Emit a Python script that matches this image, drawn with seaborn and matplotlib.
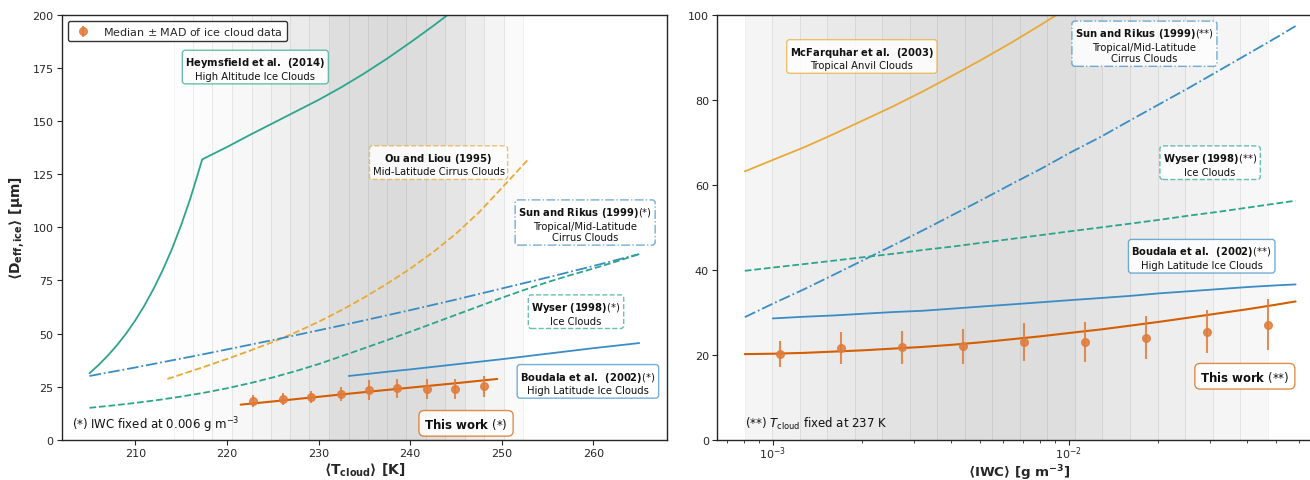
import numpy as np
import matplotlib
matplotlib.use("Agg")
import matplotlib.pyplot as plt
import seaborn as sns

# ---------------- data: left panel (temperature) ----------------
t_band_edges = [214.2, 216.3, 218.4, 220.6, 222.7, 224.8, 226.9, 229.0, 231.1, 233.3,
                235.4, 237.5, 239.6, 241.7, 243.8, 246.0, 248.1, 250.2, 252.3]
t_band_alpha = [0.008, 0.012, 0.018, 0.03, 0.045, 0.06, 0.08, 0.095, 0.13,
                0.135, 0.14, 0.14, 0.135, 0.12, 0.10, 0.07, 0.045, 0.02]

t_grid = [205, 207.5, 210, 212.5, 215, 217.5, 220, 222.5, 225, 227.5, 230, 232.5, 235,
          237.5, 240, 242.5, 245, 247.5, 250, 252.5, 255, 257.5, 260, 262.5, 265]
sun_t = [30.0, 32.0, 34.0, 36.1, 38.2, 40.3, 42.5, 44.7, 46.9, 49.2, 51.5, 53.8, 56.2,
         58.6, 61.0, 63.5, 66.0, 68.6, 71.2, 73.8, 76.4, 79.1, 81.8, 84.6, 87.4]
wyser_t = [15.0, 16.1, 17.3, 18.7, 20.3, 22.1, 24.2, 26.6, 29.3, 32.3, 35.6, 39.3, 43.1,
           46.9, 50.8, 54.8, 58.8, 62.8, 66.8, 70.6, 74.2, 77.5, 80.6, 83.9, 87.4]

heyms_T = [205, 206, 207, 208, 209, 210, 211, 212, 213, 214, 215, 216, 217, 217.3,
           220, 222.5, 225, 227.5, 230, 232.5, 235, 237.5, 240, 242.5, 245, 247.5]
heyms_D = [31.3, 35.2, 39.6, 44.5, 50.0, 56.2, 63.2, 71.1, 79.9, 89.8, 101.0, 113.5, 127.6, 132.0,
           137.8, 143.5, 149.0, 154.5, 160.0, 166.0, 172.5, 179.5, 187.0, 194.8, 203.0, 211.5]

ou_T = [213.5, 215, 217.5, 220, 222.5, 225, 227.5, 230, 232.5, 235, 237.5, 240, 242.5,
        245, 247.5, 250, 252.5, 253]
ou_D = [28.6, 30.7, 34.3, 38.0, 41.9, 46.0, 50.5, 55.5, 61.0, 67.0, 73.5, 80.5, 88.3,
        97.0, 107.0, 118.5, 130.2, 132.5]

boud_T = [233.3, 235, 237.5, 240, 242.5, 245, 247.5, 250, 252.5, 255, 257.5, 260, 262.5, 265]
boud_D = [30.0, 30.8, 32.0, 33.1, 34.3, 35.5, 36.7, 37.9, 39.2, 40.5, 41.8, 43.1, 44.3, 45.5]

fit_T = [221.5, 225, 230, 235, 240, 245, 249.5]
fit_D = [16.5, 18.0, 20.2, 22.4, 24.5, 26.6, 28.6]

obs_T = [222.9, 226.1, 229.2, 232.4, 235.5, 238.6, 241.8, 244.9, 248.1]
obs_D = [18.2, 19.2, 20.0, 21.5, 23.4, 24.3, 23.9, 23.9, 25.1]
obs_err = [2.7, 2.7, 2.9, 3.2, 4.5, 4.5, 4.7, 4.6, 5.0]

# ---------------- data: right panel (IWC) ----------------
iwc_band_edges = [8.054e-4, 9.975e-4, 1.236e-3, 1.530e-3, 1.895e-3, 2.347e-3, 2.907e-3,
                  3.600e-3, 4.459e-3, 5.523e-3, 6.839e-3, 8.471e-3, 1.049e-2, 1.299e-2,
                  1.609e-2, 1.993e-2, 2.469e-2, 3.057e-2, 3.787e-2, 4.690e-2]
iwc_band_alpha = [0.04, 0.055, 0.07, 0.085, 0.095, 0.11, 0.12, 0.13, 0.135, 0.135,
                  0.135, 0.13, 0.11, 0.095, 0.08, 0.065, 0.055, 0.04, 0.03]

iwc_grid = [0.000805, 0.00101, 0.00128, 0.00161, 0.00202, 0.00255, 0.00321, 0.00404,
            0.00508, 0.0064, 0.00805, 0.0101, 0.0128, 0.0161, 0.0202, 0.0255, 0.0321,
            0.0404, 0.0508, 0.0583]
mcf_D = [63.2, 66.0, 68.9, 72.0, 75.2, 78.5, 82.0, 85.7, 89.5, 93.5, 97.7, 102.0, 106.5]
sun_i = [28.9, 32.2, 35.5, 38.9, 42.3, 45.8, 49.3, 52.9, 56.5, 60.2, 63.8, 67.6, 71.3,
         75.2, 79.0, 82.9, 86.9, 90.9, 94.9, 97.4]
wyser_i = [39.8, 40.6, 41.4, 42.2, 43.0, 43.8, 44.7, 45.5, 46.4, 47.3, 48.2, 49.1, 50.0,
           50.9, 51.8, 52.8, 53.7, 54.7, 55.7, 56.3]
boud_iwc = [0.001, 0.00128, 0.00161, 0.00202, 0.00255, 0.00321, 0.00404, 0.00508, 0.0064,
            0.00805, 0.0101, 0.0128, 0.0161, 0.0202, 0.0255, 0.0321, 0.0404, 0.0508, 0.0583]
boud_i = [28.6, 29.0, 29.3, 29.7, 30.1, 30.4, 30.9, 31.4, 31.9, 32.4, 32.9, 33.4, 33.9,
          34.5, 35.0, 35.5, 36.0, 36.4, 36.6]
fit_i = [20.2, 20.3, 20.5, 20.8, 21.1, 21.5, 21.9, 22.4, 23.0, 23.7, 24.4, 25.2, 26.0,
         26.9, 27.8, 28.8, 29.8, 30.8, 31.9, 32.6]

obs_iwc = [1.056e-3, 1.70e-3, 2.73e-3, 4.38e-3, 7.05e-3, 1.133e-2, 1.82e-2, 2.92e-2, 4.70e-2]
obs_Di = [20.2, 21.6, 21.8, 22.0, 23.1, 23.1, 24.1, 25.5, 27.1]
obs_erri = [3.1, 3.7, 3.9, 4.2, 4.5, 4.65, 5.0, 5.1, 6.0]

# ---------------- style ----------------
sns.set_theme(style="ticks")
plt.rcParams['font.family'] = ['DejaVu Sans']
plt.rcParams['mathtext.fontset'] = 'dejavusans'

GREEN = '#2ca58d'
YELLOW = '#e9aa35'
BLUE = '#3a8dc4'
ORANGE = '#d55e00'
PT = '#e07b39'
LW = 1.3

fig = plt.figure(figsize=(13.1, 4.81), dpi=100)
axL = fig.add_axes([0.04733, 0.0838, 0.4616, 0.8830])
axR = fig.add_axes([0.54756, 0.0832, 0.4616, 0.8836])


def bands(ax, edges, alphas):
    for a0, a1, al in zip(edges[:-1], edges[1:], alphas):
        ax.axvspan(a0, a1, facecolor=(0, 0, 0, al), edgecolor=(0, 0, 0, 0.035),
                   lw=0.8, zorder=0)


def box(ax, x, y, txt, color, ls='-', fs=7.2, pad=0.3):
    ax.text(x, y, txt, ha='center', va='center', fontsize=fs, color='#111111',
            multialignment='center', zorder=6,
            bbox=dict(boxstyle=f'round,pad={pad}', fc=(1, 1, 1, 0.85), ec=color,
                      lw=1.0, ls=ls))


def edge(c, a=0.7):
    r, g, b = matplotlib.colors.to_rgb(c)
    return (r, g, b, a)


# ---------------- left panel ----------------
ax = axL
bands(ax, t_band_edges, t_band_alpha)
sns.lineplot(x=heyms_T, y=heyms_D, ax=ax, color=GREEN, lw=LW, sort=False)
sns.lineplot(x=ou_T, y=ou_D, ax=ax, color=YELLOW, lw=LW, linestyle='--')
sns.lineplot(x=t_grid, y=sun_t, ax=ax, color=BLUE, lw=LW, linestyle='-.')
sns.lineplot(x=t_grid, y=wyser_t, ax=ax, color=GREEN, lw=LW, linestyle='--')
sns.lineplot(x=boud_T, y=boud_D, ax=ax, color=BLUE, lw=LW)
sns.lineplot(x=fit_T, y=fit_D, ax=ax, color=ORANGE, lw=LW + 0.2)
ax.errorbar(obs_T, obs_D, yerr=obs_err, fmt='o', color=PT, ms=5.5, elinewidth=1.5,
            capsize=0, alpha=0.85, zorder=4, label='Median $\\pm$ MAD of ice cloud data')
ax.set_xlim(202, 268)
ax.set_ylim(0, 200)
ax.set_xticks([210, 220, 230, 240, 250, 260])
ax.set_yticks([0, 25, 50, 75, 100, 125, 150, 175, 200])
ax.set_xlabel('⟨T$_{\\mathbf{cloud}}$⟩ [K]', fontsize=10, fontweight='bold')
ax.set_ylabel('⟨D$_{\\mathbf{eff,ice}}$⟩ [μm]', fontsize=10, fontweight='bold', labelpad=4)
ax.legend(loc='upper left', fontsize=8, frameon=True, edgecolor='0.2', fancybox=True,
          framealpha=1)

box(ax, 223.1, 175.0, r'$\bf{Heymsfield\ et\ al.\ \,(2014)}$' + '\nHigh Altitude Ice Clouds',
    edge(GREEN))
box(ax, 243.1, 130.0, r'$\bf{Ou\ and\ Liou\ (1995)}$' + '\nMid-Latitude Cirrus Clouds',
    edge(YELLOW), ls='--')
box(ax, 259.1, 101.8, r'$\bf{Sun\ and\ Rikus\ (1999)}$(*)' + '\nTropical/Mid-Latitude\nCirrus Clouds',
    edge(BLUE), ls='-.')
box(ax, 258.1, 59.8, r'$\bf{Wyser\ (1998)}$(*)' + '\nIce Clouds', edge(GREEN), ls='--')
box(ax, 259.4, 27.0, r'$\bf{Boudala\ et\ al.\ \,(2002)}$(*)' + '\nHigh Latitude Ice Clouds',
    edge(BLUE))
box(ax, 246.1, 7.7, r'$\bf{This\ work}$ (*)', edge(ORANGE), fs=8.5, pad=0.45)
ax.text(0.0165, 0.037, r'(*) IWC fixed at 0.006 g m$^{-3}$', transform=ax.transAxes,
        fontsize=8.5, ha='left', va='center', color='#111111')

# ---------------- right panel ----------------
ax = axR
ax.set_xscale('log')
bands(ax, iwc_band_edges, iwc_band_alpha)
sns.lineplot(x=iwc_grid[:len(mcf_D)], y=mcf_D, ax=ax, color=YELLOW, lw=LW)
sns.lineplot(x=iwc_grid, y=sun_i, ax=ax, color=BLUE, lw=LW, linestyle='-.')
sns.lineplot(x=iwc_grid, y=wyser_i, ax=ax, color=GREEN, lw=LW, linestyle='--')
sns.lineplot(x=boud_iwc, y=boud_i, ax=ax, color=BLUE, lw=LW)
sns.lineplot(x=iwc_grid, y=fit_i, ax=ax, color=ORANGE, lw=LW + 0.2)
ax.errorbar(obs_iwc, obs_Di, yerr=obs_erri, fmt='o', color=PT, ms=5.5, elinewidth=1.5,
            capsize=0, alpha=0.85, zorder=4)
ax.set_xlim(6.50e-4, 0.0716)
ax.set_ylim(0, 100)
ax.set_yticks([0, 20, 40, 60, 80, 100])
ax.set_xlabel('⟨IWC⟩ [g m$^{\\mathbf{-3}}$]', fontsize=9.6, fontweight='bold')

box(ax, 2.0e-3, 90.0, r'$\bf{McFarquhar\ et\ al.\ \,(2003)}$' + '\nTropical Anvil Clouds',
    edge(YELLOW))
box(ax, 0.0180, 93.0, r'$\bf{Sun\ and\ Rikus\ (1999)}$(**)' + '\nTropical/Mid-Latitude\nCirrus Clouds',
    edge(BLUE), ls='-.')
box(ax, 0.030, 65.0, r'$\bf{Wyser\ (1998)}$(**)' + '\nIce Clouds', edge(GREEN), ls='--')
box(ax, 0.0281, 43.0, r'$\bf{Boudala\ et\ al.\ \,(2002)}$(**)' + '\nHigh Latitude Ice Clouds',
    edge(BLUE))
box(ax, 0.0393, 15.0, r'$\bf{This\ work}$ (**)', edge(ORANGE), fs=8.5, pad=0.45)
ax.text(0.046, 0.04, r'(**) $T_{\rm cloud}$ fixed at 237 K', transform=ax.transAxes,
        fontsize=8.5, ha='left', va='center', color='#111111')

for a in (axL, axR):
    a.tick_params(axis='both', which='major', labelsize=8, length=3.5, width=0.8,
                  color='0.15', pad=2.5)
    a.tick_params(axis='both', which='minor', length=2, width=0.6, color='0.15')
    for s in a.spines.values():
        s.set_color('0.15')
        s.set_linewidth(1.0)
    a.grid(False)
    a.xaxis.label.set_va('center')

axR.tick_params(axis='x', which='major', pad=0.0)
axL.xaxis.set_label_coords(0.5, -0.069)
axR.xaxis.set_label_coords(0.5, -0.075)

fig.savefig('out.png', dpi=100)
